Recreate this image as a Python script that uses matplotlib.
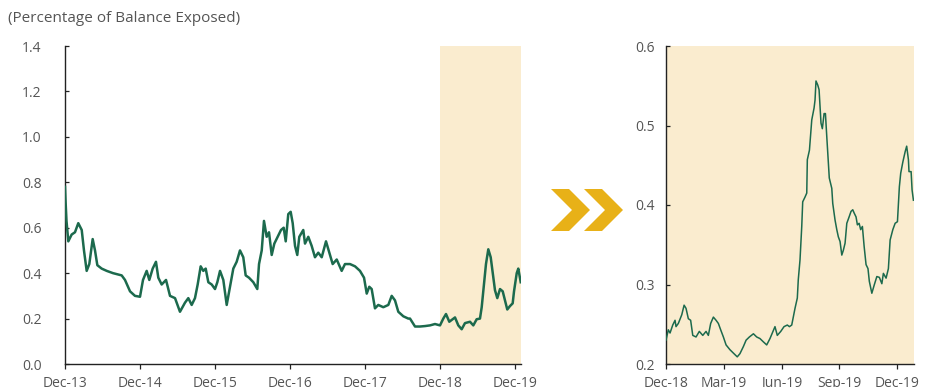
import matplotlib
matplotlib.use("Agg")
import matplotlib.pyplot as plt
from matplotlib.patches import Polygon

plt.rcParams['font.family'] = ['Open Sans', 'DejaVu Sans']

# Full history: years elapsed since Dec-13 and share of balance exposed
left_years = [0.000, 0.007, 0.020, 0.044, 0.089, 0.133, 0.177, 0.223, 0.253, 0.289,
              0.324, 0.369, 0.400, 0.431, 0.489, 0.556, 0.640, 0.756, 0.800, 0.867,
              0.933, 1.000, 1.040, 1.089, 1.124, 1.169, 1.213, 1.244, 1.289, 1.347,
              1.400, 1.467, 1.533, 1.600, 1.644, 1.689, 1.733, 1.769, 1.809, 1.844,
              1.876, 1.911, 1.956, 2.000, 2.031, 2.067, 2.111, 2.156, 2.200, 2.244,
              2.289, 2.333, 2.377, 2.409, 2.453, 2.511, 2.564, 2.587, 2.623, 2.653,
              2.689, 2.720, 2.756, 2.791, 2.836, 2.880, 2.916, 2.943, 2.977, 3.009,
              3.036, 3.067, 3.097, 3.124, 3.177, 3.200, 3.244, 3.289, 3.333, 3.377,
              3.423, 3.480, 3.524, 3.569, 3.623, 3.689, 3.733, 3.800, 3.867, 3.933,
              3.987, 4.023, 4.057, 4.089, 4.133, 4.177, 4.244, 4.311, 4.356, 4.400,
              4.444, 4.511, 4.577, 4.600, 4.667, 4.733, 4.800, 4.867, 4.933, 5.000,
              5.044, 5.080, 5.124, 5.169, 5.200, 5.244, 5.289, 5.333, 5.400, 5.444,
              5.489, 5.533, 5.556, 5.587, 5.613, 5.644, 5.676, 5.703, 5.733, 5.764,
              5.800, 5.836, 5.867, 5.897, 5.933, 5.969, 5.987, 6.023, 6.044, 6.076]
left_vals = [0.78, 0.72, 0.63, 0.54, 0.57, 0.58, 0.62, 0.59, 0.50, 0.41,
             0.44, 0.55, 0.50, 0.435, 0.42, 0.41, 0.40, 0.39, 0.37, 0.32,
             0.30, 0.296, 0.37, 0.41, 0.37, 0.42, 0.45, 0.38, 0.35, 0.37,
             0.30, 0.29, 0.23, 0.27, 0.29, 0.26, 0.29, 0.35, 0.43, 0.41,
             0.42, 0.36, 0.35, 0.33, 0.36, 0.41, 0.37, 0.26, 0.34, 0.42,
             0.45, 0.50, 0.47, 0.39, 0.38, 0.36, 0.33, 0.44, 0.50, 0.63,
             0.56, 0.58, 0.48, 0.53, 0.56, 0.59, 0.60, 0.54, 0.66, 0.67,
             0.62, 0.52, 0.48, 0.56, 0.59, 0.53, 0.56, 0.52, 0.47, 0.49,
             0.47, 0.54, 0.49, 0.44, 0.46, 0.41, 0.44, 0.44, 0.43, 0.41,
             0.38, 0.31, 0.34, 0.33, 0.245, 0.26, 0.25, 0.26, 0.30, 0.28,
             0.23, 0.21, 0.20, 0.20, 0.165, 0.165, 0.167, 0.17, 0.176, 0.17,
             0.20, 0.22, 0.186, 0.197, 0.205, 0.17, 0.153, 0.18, 0.186, 0.17,
             0.197, 0.20, 0.25, 0.355, 0.44, 0.505, 0.47, 0.40, 0.325, 0.29,
             0.33, 0.32, 0.28, 0.24, 0.255, 0.267, 0.32, 0.40, 0.42, 0.36]
left_ticks = [0, 1, 2, 3, 4, 5, 6]
left_ticklabels = ['Dec-13', 'Dec-14', 'Dec-15', 'Dec-16', 'Dec-17', 'Dec-18', 'Dec-19']

# Last year in detail: months elapsed since Dec-18
right_months = [0.00, 0.12, 0.21, 0.35, 0.47, 0.52, 0.64, 0.82, 0.94, 1.04,
                1.16, 1.28, 1.39, 1.56, 1.73, 1.91, 2.08, 2.20, 2.32, 2.46,
                2.60, 2.72, 2.84, 2.98, 3.12, 3.32, 3.53, 3.70, 3.84, 4.02,
                4.16, 4.33, 4.54, 4.71, 4.88, 5.05, 5.23, 5.40, 5.66, 5.78,
                5.96, 6.13, 6.30, 6.41, 6.53, 6.70, 6.82, 6.87, 6.96, 7.05,
                7.10, 7.22, 7.31, 7.34, 7.45, 7.57, 7.69, 7.74, 7.79, 7.88,
                7.95, 8.00, 8.05, 8.12, 8.21, 8.28, 8.35, 8.48, 8.61, 8.66,
                8.78, 8.87, 8.95, 9.04, 9.13, 9.21, 9.30, 9.39, 9.51, 9.61,
                9.70, 9.77, 9.87, 9.94, 10.03, 10.11, 10.20, 10.29, 10.39, 10.49,
                10.56, 10.69, 10.81, 10.95, 11.08, 11.21, 11.29, 11.43, 11.55, 11.64,
                11.78, 11.90, 12.02, 12.12, 12.19, 12.30, 12.42, 12.50, 12.59, 12.62,
                12.73, 12.78, 12.85]
right_vals = [0.230, 0.243, 0.239, 0.249, 0.255, 0.247, 0.251, 0.262, 0.274, 0.270,
              0.257, 0.255, 0.236, 0.234, 0.241, 0.236, 0.241, 0.236, 0.251, 0.259,
              0.255, 0.251, 0.243, 0.234, 0.224, 0.218, 0.213, 0.209, 0.213, 0.222,
              0.230, 0.234, 0.238, 0.234, 0.232, 0.228, 0.224, 0.232, 0.247, 0.236,
              0.241, 0.247, 0.249, 0.247, 0.249, 0.270, 0.283, 0.306, 0.331, 0.373,
              0.404, 0.410, 0.415, 0.457, 0.469, 0.507, 0.522, 0.532, 0.556, 0.551,
              0.545, 0.524, 0.503, 0.496, 0.515, 0.515, 0.486, 0.434, 0.421, 0.402,
              0.381, 0.369, 0.360, 0.354, 0.337, 0.343, 0.352, 0.377, 0.385, 0.392,
              0.394, 0.390, 0.385, 0.375, 0.377, 0.369, 0.373, 0.348, 0.325, 0.320,
              0.304, 0.289, 0.299, 0.310, 0.309, 0.301, 0.314, 0.308, 0.320, 0.356,
              0.369, 0.377, 0.379, 0.423, 0.440, 0.454, 0.467, 0.474, 0.457, 0.442,
              0.442, 0.419, 0.406]
right_ticks = [0, 3, 6, 9, 12]
right_ticklabels = ['Dec-18', 'Mar-19', 'Jun-19', 'Sep-19', 'Dec-19']

title_text = '(Percentage of Balance Exposed)'

LINE = '#1C6A4D'
SHADE = '#FAECCF'
GOLD = '#E8B118'
TEXT = '#555555'

fig = plt.figure(figsize=(9.25, 3.87), dpi=100)
ax1 = fig.add_axes([65 / 925, 23 / 387, 456 / 925, 318 / 387])
ax2 = fig.add_axes([666 / 925, 23 / 387, 248 / 925, 318 / 387])


def style(ax, ypad):
    for side in ('top', 'right'):
        ax.spines[side].set_visible(False)
    for side in ('left', 'bottom'):
        ax.spines[side].set_color('#222222')
        ax.spines[side].set_linewidth(1.0)
    ax.tick_params(axis='y', direction='in', length=3, width=0.9,
                   colors='#222222', labelcolor=TEXT, labelsize=10, pad=ypad)
    ax.tick_params(axis='x', direction='out', length=3.5, width=0.9,
                   colors='#222222', labelcolor=TEXT, labelsize=10, pad=5)


# Left panel: full history with the last year highlighted
ax1.axvspan(5, 6.08, color=SHADE, lw=0, zorder=0)
ax1.plot(left_years, left_vals, color=LINE, lw=1.8, zorder=3)
ax1.set_xlim(0, 6.08)
ax1.set_ylim(0, 1.4)
ax1.set_yticks([0.0, 0.2, 0.4, 0.6, 0.8, 1.0, 1.2, 1.4])
ax1.set_yticklabels([f'{v:.1f}' for v in [0.0, 0.2, 0.4, 0.6, 0.8, 1.0, 1.2, 1.4]])
ax1.set_xticks(left_ticks)
ax1.set_xticklabels(left_ticklabels)
style(ax1, 17)

# Right panel: zoom on the last year
ax2.set_facecolor(SHADE)
ax2.plot(right_months, right_vals, color=LINE, lw=1.1, zorder=3)
ax2.set_xlim(0, 12.88)
ax2.set_ylim(0.2, 0.6)
ax2.set_yticks([0.2, 0.3, 0.4, 0.5, 0.6])
ax2.set_yticklabels([f'{v:.1f}' for v in [0.2, 0.3, 0.4, 0.5, 0.6]])
ax2.set_xticks(right_ticks)
ax2.set_xticklabels(right_ticklabels)
style(ax2, 8)

fig.text(8 / 925, 1 - 18 / 387, title_text, ha='left', va='center',
         fontsize=11, color=TEXT)


# Double chevron between the panels (pixel coords converted to figure fraction)
def chevron(x0, y_top, y_bot, thick, depth):
    ym = (y_top + y_bot) / 2
    pts = [(x0, y_top), (x0 + thick, y_top), (x0 + thick + depth, ym),
           (x0 + thick, y_bot), (x0, y_bot), (x0 + depth, ym)]
    return [(x / 925, 1 - y / 387) for x, y in pts]


for x0 in (551, 584):
    fig.patches.append(Polygon(chevron(x0, 189, 231, 18, 21), closed=True,
                               transform=fig.transFigure, facecolor=GOLD,
                               edgecolor='none'))

fig.savefig('out.png', dpi=100)
